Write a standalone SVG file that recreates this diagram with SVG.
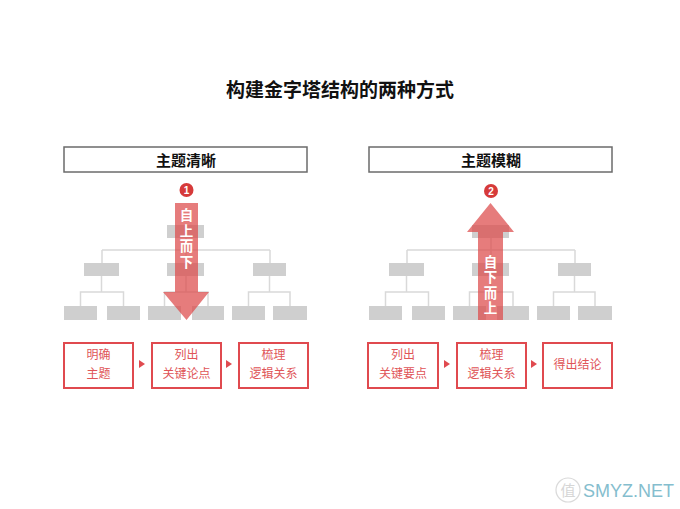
<svg xmlns="http://www.w3.org/2000/svg" width="680" height="509" viewBox="0 0 680 509">
<style>
.t{font-family:"Noto Sans CJK SC","Noto Sans",sans-serif}
.title{font-size:19px;font-weight:bold;fill:#111;text-anchor:middle}
.hdr{fill:#fff;stroke:#6b6b6b;stroke-width:1.5}
.hdrt{font-size:15px;font-weight:bold;fill:#111;text-anchor:middle}
.nd{fill:#cfcfcf}
.ln{fill:none;stroke:#d9d9d9;stroke-width:1.5}
.arr{fill:#dc4a4a;fill-opacity:0.72}
.at{font-size:13.5px;font-weight:bold;fill:#fff;text-anchor:middle;writing-mode:vertical-rl;letter-spacing:2px}
.num{fill:#d63a3a}
.numt{font-size:10px;font-weight:bold;fill:#fff;text-anchor:middle;font-family:"Liberation Sans",sans-serif}
.box{fill:#fff;stroke:#e04a4f;stroke-width:2}
.bt{font-size:12px;fill:#e05558;text-anchor:middle}
.tri{fill:#e04a4f}
</style>
<rect width="680" height="509" fill="#fff"/>
<text class="t title" x="340" y="97">构建金字塔结构的两种方式</text>

<g id="header-left"><rect class="hdr" x="64" y="147" width="243" height="25"/><text class="t hdrt" x="186" y="166">主题清晰</text></g>
<g id="header-right"><rect class="hdr" x="369" y="147" width="243" height="25"/><text class="t hdrt" x="491" y="166">主题模糊</text></g>

<g id="connectors">
 <g id="tree-lines-left">
  <path class="ln" d="M186 238V263M102 250H270M102 250V263M270 250V263"/>
  <path class="ln" d="M101.5 276V292M80.5 306V292H123.5V306"/>
  <path class="ln" d="M186 276V292M164.5 306V292H208V306"/>
  <path class="ln" d="M269.5 276V292M248.5 306V292H290V306"/>
 </g>
 <g id="tree-lines-right" transform="translate(305,0)">
  <path class="ln" d="M186 238V263M102 250H270M102 250V263M270 250V263"/>
  <path class="ln" d="M101.5 276V292M80.5 306V292H123.5V306"/>
  <path class="ln" d="M186 276V292M164.5 306V292H208V306"/>
  <path class="ln" d="M269.5 276V292M248.5 306V292H290V306"/>
 </g>
 <g id="flow-arrows">
  <path class="tri" d="M139 360L145 364L139 368Z"/>
  <path class="tri" d="M226 360L232 364L226 368Z"/>
  <path class="tri" d="M444 360L450 364L444 368Z"/>
  <path class="tri" d="M531 360L537 364L531 368Z"/>
 </g>
</g>

<g id="tree-left">
 <g id="l-n1"><rect class="nd" x="167" y="225" width="37" height="13"/></g>
 <g id="l-n2a"><rect class="nd" x="84" y="263" width="35" height="13"/></g>
 <g id="l-n2b"><rect class="nd" x="167" y="263" width="37" height="13"/></g>
 <g id="l-n2c"><rect class="nd" x="253" y="263" width="33" height="13"/></g>
 <g id="l-n3a"><rect class="nd" x="64" y="306" width="33" height="14"/></g>
 <g id="l-n3b"><rect class="nd" x="107" y="306" width="33" height="14"/></g>
 <g id="l-n3c"><rect class="nd" x="148" y="306" width="33" height="14"/></g>
 <g id="l-n3d"><rect class="nd" x="192" y="306" width="32" height="14"/></g>
 <g id="l-n3e"><rect class="nd" x="232" y="306" width="33" height="14"/></g>
 <g id="l-n3f"><rect class="nd" x="273" y="306" width="34" height="14"/></g>
</g>
<g id="tree-right" transform="translate(305,0)">
 <g id="r-n1"><rect class="nd" x="167" y="225" width="37" height="13"/></g>
 <g id="r-n2a"><rect class="nd" x="84" y="263" width="35" height="13"/></g>
 <g id="r-n2b"><rect class="nd" x="167" y="263" width="37" height="13"/></g>
 <g id="r-n2c"><rect class="nd" x="253" y="263" width="33" height="13"/></g>
 <g id="r-n3a"><rect class="nd" x="64" y="306" width="33" height="14"/></g>
 <g id="r-n3b"><rect class="nd" x="107" y="306" width="33" height="14"/></g>
 <g id="r-n3c"><rect class="nd" x="148" y="306" width="33" height="14"/></g>
 <g id="r-n3d"><rect class="nd" x="192" y="306" width="32" height="14"/></g>
 <g id="r-n3e"><rect class="nd" x="232" y="306" width="33" height="14"/></g>
 <g id="r-n3f"><rect class="nd" x="273" y="306" width="34" height="14"/></g>
</g>

<g id="arrow-down">
 <path class="arr" d="M175 203H198V292H209L186.5 320L163 292H175Z"/>
 <text class="t at" x="186.5" y="239.5">自上而下</text>
</g>
<g id="arrow-up">
 <path class="arr" d="M478 320V232H467L490.5 203L514 232H503V320Z"/>
 <text class="t at" x="490.5" y="286">自下而上</text>
</g>

<g id="badge-1"><circle class="num" cx="186.5" cy="190" r="7"/><text class="numt" x="186.5" y="193.5">1</text></g>
<g id="badge-2"><circle class="num" cx="491" cy="191" r="7"/><text class="numt" x="491" y="194.5">2</text></g>

<g id="flow-left-1"><rect class="box" x="64" y="343" width="69" height="45"/><text class="t bt" x="98.5" y="359">明确</text><text class="t bt" x="98.5" y="378">主题</text></g>
<g id="flow-left-2"><rect class="box" x="152" y="343" width="69" height="45"/><text class="t bt" x="186.5" y="359">列出</text><text class="t bt" x="186.5" y="378">关键论点</text></g>
<g id="flow-left-3"><rect class="box" x="239" y="343" width="69" height="45"/><text class="t bt" x="273.5" y="359">梳理</text><text class="t bt" x="273.5" y="378">逻辑关系</text></g>
<g id="flow-right-1"><rect class="box" x="368" y="343" width="70" height="45"/><text class="t bt" x="403" y="359">列出</text><text class="t bt" x="403" y="378">关键要点</text></g>
<g id="flow-right-2"><rect class="box" x="457" y="343" width="69" height="45"/><text class="t bt" x="491.5" y="359">梳理</text><text class="t bt" x="491.5" y="378">逻辑关系</text></g>
<g id="flow-right-3"><rect class="box" x="543" y="343" width="69" height="45"/><text class="t bt" x="577.5" y="368.5">得出结论</text></g>

<g id="watermark" opacity="0.85">
 <circle cx="568" cy="490" r="12" fill="none" stroke="#d4d4d4" stroke-width="1.2"/>
 <text class="t" x="568" y="496" font-size="15" fill="#cfcfcf" text-anchor="middle">值</text>
 <text x="583" y="497" font-family="Liberation Sans,sans-serif" font-size="18" fill="#6fb3c6">SMYZ.NET</text>
</g>
</svg>
